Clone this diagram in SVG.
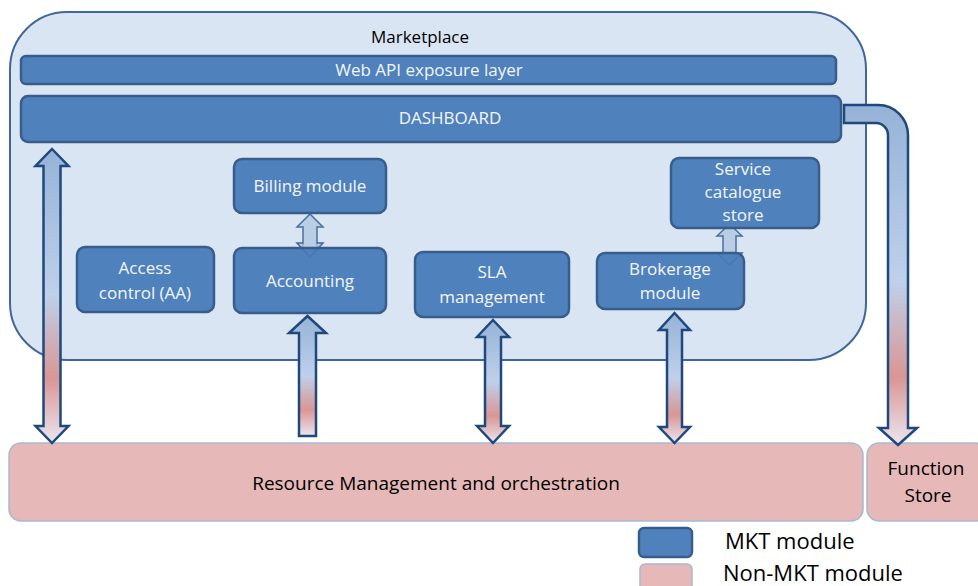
<svg xmlns="http://www.w3.org/2000/svg" width="978" height="586" viewBox="0 0 978 586">
<defs>
<style>
.mod{fill:#4f81bd;stroke:#385d8a;stroke-width:2.5}
.mt{fill:#f4f7fc;font-family:"Open Sans","Liberation Sans",sans-serif;font-size:17px;text-anchor:middle}
.bt{fill:#000000;font-family:"Open Sans","Liberation Sans",sans-serif;text-anchor:middle}
.lt{fill:#000000;font-family:"Open Sans","Liberation Sans",sans-serif;font-size:22px;text-anchor:start}
.nm{fill:#e6b9b8;stroke:#a6b9d3;stroke-width:1.5}
.arr{stroke:#1f497d;stroke-width:2.5;stroke-linejoin:miter}
.sm{fill:#b9cde5;stroke:#4a6fa0;stroke-width:1.5}
</style>
<linearGradient id="g" x1="0" y1="0" x2="0" y2="1">
<stop offset="0" stop-color="#95b3d7"/>
<stop offset="0.5" stop-color="#bfd0ea"/>
<stop offset="0.78" stop-color="#d99694"/>
<stop offset="1" stop-color="#ebe6f0"/>
</linearGradient>
<linearGradient id="ge" gradientUnits="userSpaceOnUse" x1="0" y1="105" x2="0" y2="445">
<stop offset="0" stop-color="#95b3d7"/>
<stop offset="0.52" stop-color="#bfd0ea"/>
<stop offset="0.8" stop-color="#d99694"/>
<stop offset="1" stop-color="#ebe6f0"/>
</linearGradient>
</defs>

<g id="marketplace">
<rect x="10" y="12" width="856" height="348" rx="57" ry="57" fill="#dae5f3" stroke="#41679a" stroke-width="2"/>
<text class="bt" x="420" y="43" font-size="17">Marketplace</text>
</g>

<g id="webapi">
<rect class="mod" x="21" y="56" width="815" height="28" rx="5"/>
<text class="mt" x="429" y="76">Web API exposure layer</text>
</g>

<g id="dashboard">
<rect class="mod" x="21" y="96" width="820" height="46" rx="7"/>
<text class="mt" x="450" y="124">DASHBOARD</text>
</g>

<g id="connectors-behind">
<path class="sm" d="M310,214 L323,227 L317,227 L317,243 L323,243 L310,257 L297,243 L303,243 L303,227 L297,227 Z"/>
<path class="sm" d="M729.5,224 L742,236 L736,236 L736,253 L742,253 L729.5,265 L717,253 L723,253 L723,236 L717,236 Z"/>
</g>

<g id="billing">
<rect class="mod" x="234" y="159" width="152" height="54" rx="8"/>
<text class="mt" x="310" y="192">Billing module</text>
</g>

<g id="access">
<rect class="mod" x="77" y="247" width="137" height="65" rx="8"/>
<text class="mt" x="145" y="274">Access</text>
<text class="mt" x="145" y="299">control (AA)</text>
</g>

<g id="accounting">
<rect class="mod" x="234" y="248" width="152" height="65" rx="8"/>
<text class="mt" x="310" y="287">Accounting</text>
</g>

<g id="sla">
<rect class="mod" x="415" y="252" width="154" height="65" rx="8"/>
<text class="mt" x="492" y="278">SLA</text>
<text class="mt" x="492" y="303">management</text>
</g>

<g id="brokerage">
<rect class="mod" x="597" y="253" width="147" height="56" rx="8"/>
<text class="mt" x="670" y="275">Brokerage</text>
<text class="mt" x="670" y="299">module</text>
</g>

<g id="catalogue">
<rect class="mod" x="671" y="158" width="148" height="70" rx="8"/>
<text class="mt" x="743" y="175">Service</text>
<text class="mt" x="743" y="198">catalogue</text>
<text class="mt" x="743" y="221">store</text>
</g>

<g id="resource">
<rect class="nm" x="9" y="443" width="854" height="78" rx="12"/>
<text class="bt" x="436" y="490" font-size="19">Resource Management and orchestration</text>
</g>

<g id="function-store">
<rect class="nm" x="867" y="443" width="120" height="78" rx="12"/>
<text class="bt" x="926" y="475" font-size="19">Function</text>
<text class="bt" x="928" y="502" font-size="19">Store</text>
</g>

<g id="connectors">
<g opacity="0.3" fill="none" stroke="#385d8a" stroke-width="1.2">
<path d="M303,248 L303,243 L297,243 L310,257 L323,243 L317,243 L317,248"/>
<path d="M723,253 L717,253 L729.5,265 L742,253 L736,253"/>
</g>
<path class="arr" fill="url(#g)" d="M52,149 L68.5,166 L60.5,166 L60.5,426 L68.5,426 L52,443 L35.5,426 L43.5,426 L43.5,166 L35.5,166 Z"/>
<path class="arr" fill="url(#g)" d="M307.5,316 L326,333 L316,333 L316,436 L299,436 L299,333 L289,333 Z"/>
<path class="arr" fill="url(#g)" d="M493,320 L509,337 L501,337 L501,426 L509,426 L493,443 L477,426 L485,426 L485,337 L477,337 Z"/>
<path class="arr" fill="url(#g)" d="M674.5,313 L690,330 L682,330 L682,427 L690,427 L674.5,443 L659,427 L667,427 L667,330 L659,330 Z"/>
<path class="arr" fill="url(#ge)" d="M844,105 L878,105 A30,30 0 0 1 908,135 L908,428 L917,428 L898,445 L879,428 L888,428 L888,135 A12,12 0 0 0 876,123 L844,123 Z"/>
</g>

<g id="legend">
<rect class="mod" x="639" y="528" width="53" height="29" rx="5"/>
<text class="lt" x="725" y="549">MKT module</text>
<rect class="nm" x="640" y="564" width="52" height="30" rx="5"/>
<text class="lt" x="723" y="581">Non-MKT module</text>
</g>
</svg>
